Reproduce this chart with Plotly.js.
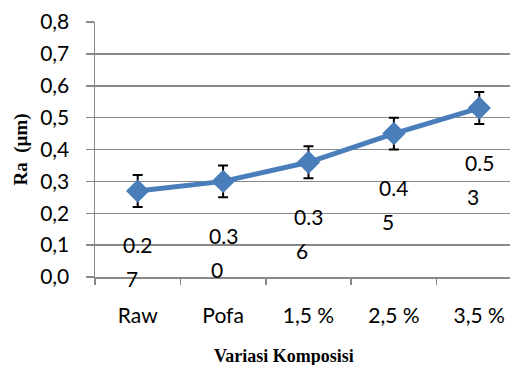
<!DOCTYPE html>
<html><head><meta charset="utf-8">
<script src="https://cdn.plot.ly/plotly-3.0.1.min.js"></script>
<style>html,body{margin:0;padding:0;overflow:hidden;background:#fff}</style>
</head><body><div id="c" style="width:510px;height:365px"></div>
<script>
var categories = ['Raw', 'Pofa', '1,5 %', '2,5 %', '3,5 %'];
var raValues = [0.27, 0.30, 0.36, 0.45, 0.53];
var raErrors = [0.05, 0.05, 0.05, 0.05, 0.05];
var yTickVals = [0, 0.1, 0.2, 0.3, 0.4, 0.5, 0.6, 0.7, 0.8];

var font = 'Lato, "Open Sans", sans-serif';
var serif = '"Liberation Serif", "Times New Roman", serif';
var annotations = [];
categories.forEach(function (c, i) {
  var s = raValues[i].toFixed(2);
  annotations.push({x: c, y: raValues[i], xref: 'x', yref: 'y', text: s.slice(0, 3),
    showarrow: false, yshift: -54, xanchor: 'center', yanchor: 'middle',
    font: {family: font, size: 21, color: '#000'}});
  annotations.push({x: c, y: raValues[i], xref: 'x', yref: 'y', text: s.slice(3),
    showarrow: false, yshift: -88, xshift: -14, xanchor: 'left', yanchor: 'middle',
    font: {family: font, size: 21, color: '#000'}});
});
annotations.push({xref: 'paper', yref: 'paper', x: 0.455, y: 0, yshift: -79, text: '<b>Variasi Komposisi</b>',
  showarrow: false, xanchor: 'center', yanchor: 'middle', font: {family: serif, size: 18, color: '#000'}});
annotations.push({xref: 'paper', yref: 'paper', x: 0, xshift: -75, y: 0.5, yshift: 0, text: '<b>Ra&nbsp;&nbsp;(µm)</b>', textangle: -90,
  showarrow: false, xanchor: 'center', yanchor: 'middle', font: {family: serif, size: 19, color: '#000'}});

var trace = {
  x: categories, y: raValues, type: 'scatter', mode: 'lines+markers',
  line: {color: '#4A7EBB', width: 5},
  marker: {symbol: 'diamond', size: 18, color: '#4A7EBB'},
  error_y: {type: 'data', array: raErrors, visible: true, color: '#000', thickness: 2, width: 5}
};
var layout = {
  width: 510, height: 365,
  margin: {l: 95, r: 0, t: 22, b: 88},
  paper_bgcolor: '#fff', plot_bgcolor: '#fff',
  showlegend: false,
  separators: ', ',
  xaxis: {type: 'category', range: [-0.5, 4.36], showgrid: false, showline: true, linecolor: '#888', linewidth: 1.5,
    ticks: 'outside', tickson: 'boundaries', ticklen: 6, tickcolor: '#888', tickwidth: 1.5,
    ticklabelstandoff: 19, tickfont: {family: font, size: 21, color: '#000'}, zeroline: false},
  yaxis: {range: [0, 0.8], tickvals: yTickVals, tickformat: '.1f', showgrid: true, gridcolor: '#888', gridwidth: 1.5,
    showline: true, linecolor: '#888', linewidth: 1.5, ticks: 'outside', ticklen: 8, tickcolor: '#888', tickwidth: 1.5,
    ticklabelstandoff: 12, tickfont: {family: font, size: 21, color: '#000'}, zeroline: false},
  annotations: annotations
};
Plotly.newPlot('c', [trace], layout, {displayModeBar: false, staticPlot: true});
</script></body></html>
